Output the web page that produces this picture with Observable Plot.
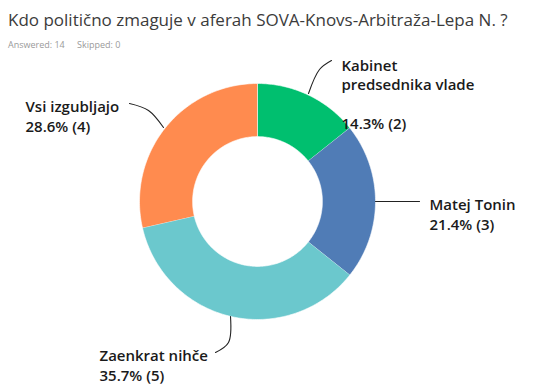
<!DOCTYPE html>
<html>
<head>
<meta charset="utf-8">
<script src="https://cdn.jsdelivr.net/npm/d3@7"></script>
<script src="https://cdn.jsdelivr.net/npm/@observablehq/plot@0.6"></script>
<style>
  html, body { margin: 0; padding: 0; background: #fff; }
  #wrap { position: relative; width: 533px; height: 391px; overflow: hidden; }
  #title { position: absolute; left: 8px; top: 8px; font-family: "Open Sans", sans-serif; font-size: 17px; color: #3b3b3b; white-space: nowrap; }
  #sub { position: absolute; left: 8px; top: 38px; font-family: "Open Sans", sans-serif; font-size: 9px; color: #9a9a9a; white-space: nowrap; }
  #sub span { display: inline-block; }
  #sub span.a { width: 69px; }
  #chart { position: absolute; left: 0; top: 52px; }
</style>
</head>
<body>
<div id="wrap">
  <div id="title">Kdo politično zmaguje v aferah SOVA-Knovs-Arbitraža-Lepa N. ?</div>
  <div id="sub"><span class="a">Answered: 14</span><span>Skipped: 0</span></div>
  <div id="chart"></div>
</div>
<script>
// ---- data ----
const categories = ["Kabinet predsednika vlade", "Matej Tonin", "Zaenkrat nihče", "Vsi izgubljajo"];
const labelLines = ["Kabinet\npredsednika vlade\n", "Matej Tonin", "Zaenkrat nihče", "Vsi izgubljajo"];
const counts = [2, 3, 5, 4];
const percents = [14.3, 21.4, 35.7, 28.6];
const colors = ["#00bf6f", "#507cb6", "#6bc8cd", "#ff8b4f"];

// ---- layout ----
const W = 533, H = 339;
const CX = 257, CY = 149, R = 118;   // pixel centre / outer radius
const INNER = 0.55;
// label anchors and connector paths in pixel coords (relative to svg), converted to units below
const labelAnchor = [[341, 4.5], [429, 144], [99, 295], [25, 46]];
const connectors = [
  [[308, 41], [319, 17], [331, 8]],
  [[375, 149], [419, 149]],
  [[230, 264], [228, 290], [215, 300]],
  [[163, 75], [148, 58], [129, 51]]
];
const ux = px => (px - CX) / R;
const uy = py => (CY - py) / R;

const total = d3.sum(counts);
let acc = 0;
const slices = [];
counts.forEach((c, i) => {
  const a0 = acc / total * 2 * Math.PI;
  acc += c;
  const a1 = acc / total * 2 * Math.PI;
  const n = Math.max(8, Math.ceil((a1 - a0) / (Math.PI / 180)));
  for (let k = 0; k <= n; k++) {
    const a = a0 + (a1 - a0) * k / n;
    slices.push({cat: categories[i], x: Math.sin(a), y: Math.cos(a)});
  }
  for (let k = n; k >= 0; k--) {
    const a = a0 + (a1 - a0) * k / n;
    slices.push({cat: categories[i], x: INNER * Math.sin(a), y: INNER * Math.cos(a)});
  }
});

const labels = categories.map((c, i) => ({
  cat: c,
  text: labelLines[i] + "\n" + percents[i].toFixed(1) + "% (" + counts[i] + ")",
  x: ux(labelAnchor[i][0]),
  y: uy(labelAnchor[i][1])
}));
const connectorPts = connectors.flatMap((pts, i) => pts.map(p => ({cat: categories[i], x: ux(p[0]), y: uy(p[1])})));

const chart = Plot.plot({
  width: W, height: H,
  margin: 0,
  x: {domain: [ux(0), ux(W)], range: [0, W], axis: null},
  y: {domain: [uy(H), uy(0)], range: [H, 0], axis: null},
  color: {domain: categories, range: colors},
  marks: [
    Plot.line(slices, {x: "x", y: "y", z: "cat", fill: "cat", stroke: "white", strokeWidth: 0.6, curve: "linear"}),
    Plot.line(connectorPts, {x: "x", y: "y", z: "cat", stroke: "#222", strokeWidth: 1.1, curve: "catmull-rom"}),
    Plot.text(labels, {x: "x", y: "y", text: "text", textAnchor: "start", lineAnchor: "top",
      fontFamily: "'Open Sans', sans-serif", fontSize: 15, fontWeight: 600, fill: "#1a1a1a", lineHeight: 1.3})
  ]
});
document.getElementById("chart").appendChild(chart);
</script>
</body>
</html>
